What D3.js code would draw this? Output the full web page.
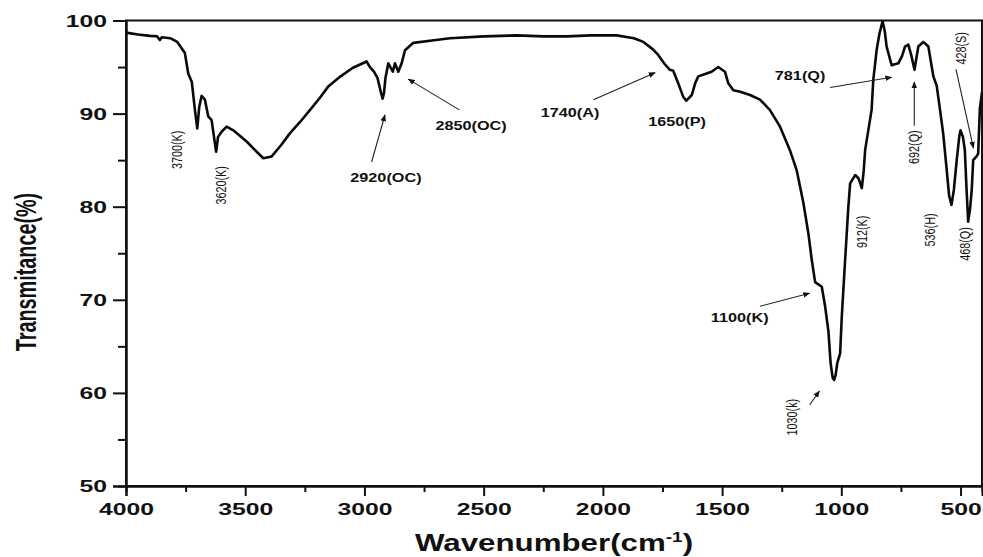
<!DOCTYPE html>
<html>
<head>
<meta charset="utf-8">
<script src="https://cdn.jsdelivr.net/npm/d3@7"></script>
<style>
  html, body { margin: 0; padding: 0; background: #fff; }
  svg { display: block; }
</style>
</head>
<body>
<svg id="chart" width="983" height="557"></svg>
<script>
// FTIR spectrum: wavenumber (cm^-1) and transmittance (%)
const wavenumber = [
  4000, 3950, 3900, 3870, 3858, 3850, 3815, 3785, 3766, 3753, 3739, 3724, 3711, 3701, 3693, 3683,
  3669, 3655, 3641, 3622, 3614, 3599, 3578, 3550, 3494, 3452, 3424, 3389, 3350, 3312, 3270, 3228,
  3190, 3152, 3100, 3050, 2991, 2977, 2960, 2945, 2932, 2924, 2918, 2912, 2900, 2881, 2872, 2858,
  2844, 2830, 2795, 2700, 2641, 2500, 2361, 2250, 2152, 2050, 1942, 1870, 1830, 1790, 1768, 1753,
  1740, 1719, 1705, 1684, 1663, 1650, 1627, 1613, 1600, 1565, 1544, 1516, 1488, 1474, 1453, 1424,
  1383, 1341, 1300, 1257, 1216, 1187, 1159, 1138, 1124, 1110, 1082, 1068, 1054, 1045, 1036, 1030,
  1024, 1017, 1005, 998, 984, 971, 963, 942, 928, 914, 906, 900, 873, 866, 852, 840,
  827, 818, 810, 789, 761, 745, 733, 719, 706, 693, 685, 677, 656, 635, 614, 600,
  586, 573, 560, 548, 538, 528, 516, 505, 500, 490, 482, 475, 468, 460, 453, 447,
  433, 426, 419, 410
];
const transmittance = [
  98.7, 98.5, 98.35, 98.3, 97.9, 98.2, 98.1, 97.7, 97.0, 96.5, 94.3, 93.4, 90.4, 88.4, 90.7, 91.9,
  91.5, 89.7, 89.3, 85.9, 87.5, 88.05, 88.6, 88.2, 87.0, 85.9, 85.2, 85.4, 86.6, 87.9, 89.1, 90.4,
  91.6, 92.9, 94.0, 94.9, 95.6, 95.0, 94.5, 93.8, 92.4, 91.6, 92.2, 93.8, 95.4, 94.5, 95.4, 94.5,
  95.4, 96.8, 97.6, 97.9, 98.1, 98.3, 98.4, 98.3, 98.3, 98.4, 98.4, 98.1, 97.7, 96.9, 96.3, 95.75,
  95.3, 94.7, 94.6, 93.25, 91.8, 91.4, 92.0, 93.25, 94.0, 94.3, 94.5, 95.0, 94.5, 93.25, 92.5, 92.35,
  92.0, 91.5, 90.4, 88.6, 86.1, 83.9, 80.4, 77.1, 74.3, 71.9, 71.4, 69.3, 66.6, 63.2, 61.6, 61.4,
  61.9, 63.2, 64.25, 68.2, 74.3, 79.8, 82.5, 83.4, 83.05, 82.0, 83.9, 86.1, 90.4, 93.6, 96.8, 98.6,
  99.9, 98.9, 97.2, 95.2, 95.4, 96.2, 97.2, 97.4, 96.2, 94.7, 96.0, 97.2, 97.7, 97.2, 94.0, 93.0,
  90.4, 87.9, 84.5, 81.2, 80.2, 81.8, 85.0, 87.6, 88.2, 87.5, 86.1, 82.0, 78.4, 79.8, 81.8, 85.0,
  85.4, 85.7, 90.5, 92.3
];

const xTickValues = [4000, 3500, 3000, 2500, 2000, 1500, 1000, 500];
const xMinorValues = [3750, 3250, 2750, 2250, 1750, 1250, 750];
const yTickValues = [50, 60, 70, 80, 90, 100];
const yMinorValues = [55, 65, 75, 85, 95];

// Band assignments written horizontally: [text, wavenumber, transmittance at baseline]
const flatLabels = [
  ["2920(OC)", 2910, 82.65],
  ["2850(OC)", 2553, 88.2],
  ["1740(A)", 2138, 89.6],
  ["1650(P)", 1689, 88.7],
  ["781(Q)", 1173, 93.6],
  ["1100(K)", 1426, 67.6]
];
// Band assignments written vertically: [text, wavenumber, transmittance at centre]
const uprightLabels = [
  ["3700(K)", 3786, 86.1],
  ["3620(K)", 3602, 82.3],
  ["692(Q)", 699, 86.4],
  ["912(K)", 913, 77.3],
  ["536(H)", 628, 77.5],
  ["468(Q)", 481, 76.0],
  ["428(S)", 498, 97.0],
  ["1030(k)", 1207, 57.4]
];
// Pointer arrows: [from wavenumber, from T, to wavenumber, to T]
const arrows = [
  [2970, 84.8, 2914, 89.85],
  [2602, 90.4, 2816, 93.7],
  [2040, 91.5, 1781, 94.4],
  [1047, 92.8, 789, 93.9],
  [694, 88.7, 694, 93.4],
  [519, 94.75, 446, 86.3],
  [1341, 69.3, 1133, 70.7],
  [1133, 58.7, 1092, 60.2]
];

const svg = d3.select("#chart");
const plotLeft = 126, plotRight = 982, plotTop = 20.5, plotBottom = 486;
const x = d3.scaleLinear().domain([4000, 410]).range([plotLeft, plotRight]);
const y = d3.scaleLinear().domain([50, 100]).range([plotBottom, plotTop]);

const tickFont = "'Liberation Sans', Arial, sans-serif";

svg.append("defs").append("marker")
  .attr("id", "head")
  .attr("viewBox", "0 0 10 10")
  .attr("refX", 9).attr("refY", 5)
  .attr("markerWidth", 7).attr("markerHeight", 7)
  .attr("markerUnits", "userSpaceOnUse")
  .attr("orient", "auto")
  .append("path").attr("d", "M0,1 L10,5 L0,9 Z").attr("fill", "#111");

// frame
svg.append("rect")
  .attr("x", plotLeft).attr("y", plotTop)
  .attr("width", plotRight - plotLeft).attr("height", plotBottom - plotTop)
  .attr("fill", "none").attr("stroke", "#111").attr("stroke-width", 2);

// axes
const xAxis = svg.append("g").attr("transform", `translate(0,${plotBottom})`)
  .call(d3.axisBottom(x).tickValues(xTickValues).tickSize(10).tickFormat(d3.format("d")));
const xMinor = svg.append("g").attr("transform", `translate(0,${plotBottom})`)
  .call(d3.axisBottom(x).tickValues(xMinorValues).tickSize(6).tickFormat(""));
const yAxis = svg.append("g").attr("transform", `translate(${plotLeft},0)`)
  .call(d3.axisLeft(y).tickValues(yTickValues).tickSize(13).tickFormat(d3.format("d")));
const yMinor = svg.append("g").attr("transform", `translate(${plotLeft},0)`)
  .call(d3.axisLeft(y).tickValues(yMinorValues).tickSize(8).tickFormat(""));

[xAxis, xMinor, yAxis, yMinor].forEach(g => {
  g.select(".domain").attr("stroke", "#111").attr("stroke-width", 2);
  g.selectAll(".tick line").attr("stroke", "#111").attr("stroke-width", 2);
});

xAxis.selectAll(".tick text")
  .attr("font-family", tickFont).attr("font-weight", "bold").attr("font-size", 16.5)
  .attr("fill", "#111")
  .attr("y", 17.5).attr("dy", "0.71em")
  .attr("transform", "scale(1.5,1)");
yAxis.selectAll(".tick text")
  .attr("font-family", tickFont).attr("font-weight", "bold").attr("font-size", 16.5)
  .attr("fill", "#111")
  .attr("x", -19 / 1.5).attr("dy", "0.34em")
  .attr("transform", "scale(1.5,1)");

// spectrum
const points = wavenumber.map((w, i) => [w, transmittance[i]]);
svg.append("path")
  .datum(points)
  .attr("fill", "none").attr("stroke", "#0a0a0a").attr("stroke-width", 2.6)
  .attr("stroke-linejoin", "round")
  .attr("d", d3.line().x(d => x(d[0])).y(d => y(d[1])));

// arrows
svg.append("g").selectAll("line").data(arrows).join("line")
  .attr("x1", d => x(d[0])).attr("y1", d => y(d[1]))
  .attr("x2", d => x(d[2])).attr("y2", d => y(d[3]))
  .attr("stroke", "#222").attr("stroke-width", 1.1)
  .attr("marker-end", "url(#head)");

// horizontal band labels
svg.append("g").selectAll("text").data(flatLabels).join("text")
  .attr("transform", d => `translate(${x(d[1])},${y(d[2])}) scale(1.3,1)`)
  .attr("text-anchor", "middle")
  .attr("font-family", tickFont).attr("font-weight", "bold").attr("font-size", 12.5)
  .attr("fill", "#111")
  .text(d => d[0]);

// vertical band labels
svg.append("g").selectAll("text").data(uprightLabels).join("text")
  .attr("transform", d => `translate(${x(d[1])},${y(d[2])}) rotate(-90) scale(0.72,1)`)
  .attr("text-anchor", "middle").attr("dy", "0.36em")
  .attr("font-family", tickFont).attr("font-size", 15)
  .attr("fill", "#111")
  .text(d => d[0]);

// axis titles
const xt = svg.append("text")
  .attr("transform", "translate(415,551) scale(1.36,1)")
  .attr("font-family", tickFont).attr("font-weight", "bold").attr("font-size", 23)
  .attr("fill", "#111");
xt.append("tspan").text("Wavenumber(cm");
xt.append("tspan").attr("font-size", 14).attr("dy", -9).text("-1");
xt.append("tspan").attr("dy", 9).text(")");

svg.append("text")
  .attr("transform", "translate(36,272) rotate(-90) scale(0.66,1)")
  .attr("text-anchor", "middle")
  .attr("font-family", tickFont).attr("font-weight", "bold").attr("font-size", 30)
  .attr("fill", "#111")
  .text("Transmitance(%)");
</script>
</body>
</html>
